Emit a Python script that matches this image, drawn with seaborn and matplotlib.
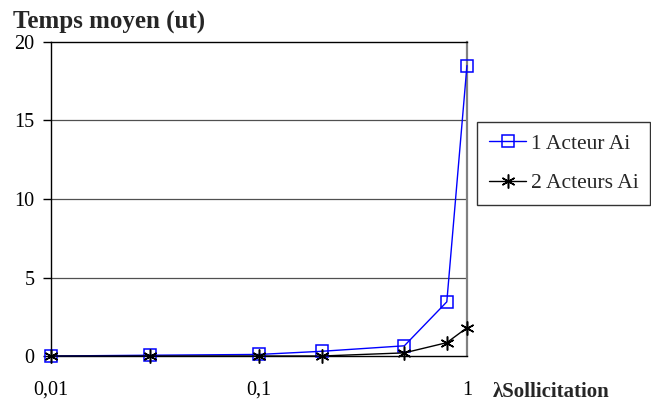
import numpy as np
import pandas as pd
import matplotlib
matplotlib.use('Agg')
import matplotlib.pyplot as plt
import seaborn as sns

# données
sollicitation = [0.01, 0.03, 0.1, 0.2, 0.5, 0.8, 1.0]
acteur_1 = [0.0, 0.05, 0.1, 0.3, 0.65, 3.45, 18.5]
acteurs_2 = [0.0, 0.0, 0.0, 0.0, 0.2, 0.85, 1.8]
yticks = [0, 5, 10, 15, 20]
xticks = [0.01, 0.1, 1]
xtick_labels = ['0,01', '0,1', '1']

sns.set_theme(style='white')
plt.rcParams['font.family'] = ['Liberation Serif', 'DejaVu Serif']

fig = plt.figure(figsize=(6.51, 4.03), dpi=100)
ax = fig.add_axes([0.0783, 0.1166, 0.639, 0.7792])

sns.lineplot(x=sollicitation, y=acteur_1, ax=ax, color='#0000ff', lw=1,
             marker='s', markersize=8.5, markerfacecolor='none',
             markeredgecolor='#0000ff', markeredgewidth=1.1,
             label='1 Acteur Ai', clip_on=False, zorder=4)
sns.lineplot(x=sollicitation, y=acteurs_2, ax=ax, color='black', lw=1,
             marker=(6, 2, 0), markersize=10, markeredgecolor='black',
             markeredgewidth=1.1, label='2 Acteurs Ai', clip_on=False, zorder=5)

ax.set_xscale('log')
ax.set_xlim(0.01, 1)
ax.set_ylim(0, 20)
ax.set_xticks(xticks)
ax.set_xticklabels(xtick_labels)
ax.minorticks_off()
ax.set_yticks(yticks)
ax.tick_params(axis='x', length=0, pad=18, labelsize=14.5, colors='black')
ax.tick_params(axis='y', length=6, width=1, direction='out', left=True,
               labelsize=14.5, colors='black', pad=6)

for v in yticks[1:-1]:
    ax.axhline(v, color='#505050', lw=0.9, zorder=0)

for s in ['left', 'top', 'bottom']:
    ax.spines[s].set_color('black')
    ax.spines[s].set_linewidth(1)
ax.spines['right'].set_color('#808080')
ax.spines['right'].set_linewidth(1.6)

ax.set_xlabel('')
ax.set_ylabel('')
fig.text(0.02, 0.928, 'Temps moyen (ut)', fontsize=18, fontweight='bold',
         ha='left', va='baseline')
fig.text(493 / 651, 1 - 397 / 403, 'λSollicitation', fontsize=15,
         fontweight='bold', ha='left', va='baseline')

leg = ax.legend(loc='upper left', bbox_to_anchor=(1.024, 0.745), frameon=True,
                fancybox=False, edgecolor='black', fontsize=15.5,
                handlelength=1.75, borderpad=0.55, labelspacing=0.9,
                handletextpad=0.2, borderaxespad=0)
leg.get_frame().set_linewidth(1)

fig.savefig('out.png', dpi=100)
